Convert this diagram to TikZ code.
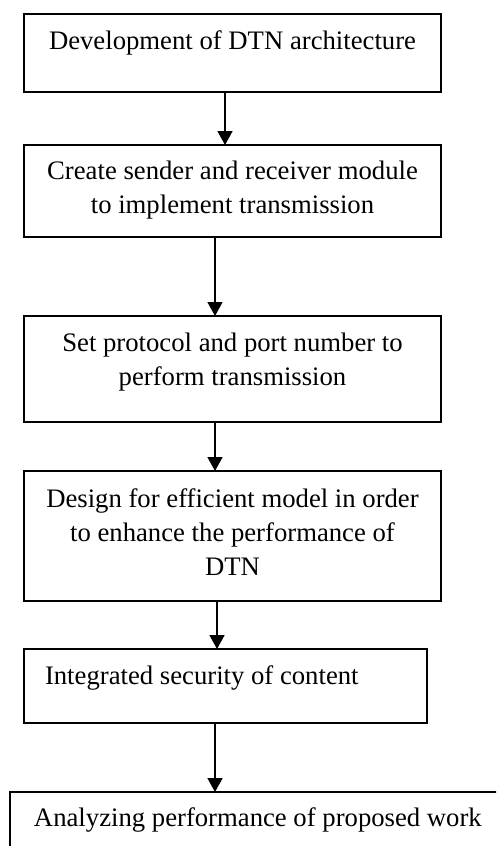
\documentclass[tikz,border=0pt]{standalone}
\usepackage{fontspec}
\setmainfont{Liberation Serif}
\usetikzlibrary{arrows.meta}
\begin{document}
\begin{tikzpicture}[x=1pt,y=-1pt,
  box/.style={draw=black,line width=1.6pt,rectangle,inner sep=0pt,outer sep=0pt},
  txt/.style={inner sep=0pt,outer sep=0pt,font=\fontsize{26.7}{34}\selectfont},
  arr/.style={line width=1.6pt,-{Triangle[length=14pt,width=15pt]}}]
\useasboundingbox (0,0) rectangle (496,846);
\clip (0,0) rectangle (496,846);
\fill[white] (0,0) rectangle (496,846);
% boxes
\node[box,minimum width=417pt,minimum height=78pt] (b1) at (232.5,53) {};
\node[box,minimum width=417pt,minimum height=92pt] (b2) at (232.5,191) {};
\node[box,minimum width=417pt,minimum height=106pt] (b3) at (232.5,369) {};
\node[box,minimum width=417pt,minimum height=130pt] (b4) at (232.5,536) {};
\node[box,minimum width=403pt,minimum height=74pt] (b5) at (225.5,686) {};
\node[box,minimum width=495pt,minimum height=68pt] (b6) at (257.5,826) {};
% texts
\node[txt,anchor=base] (t1) at (232.5,49) {Development of DTN architecture};
\node[txt,align=center] (t2) at (232.5,190.5) {Create sender and receiver module\\to implement transmission};
\node[txt,align=center] (t3) at (232.5,362) {Set protocol and port number to\\perform transmission};
\node[txt,align=center] (t4) at (232.5,532) {Design for efficient model in order\\to enhance the performance of\\DTN};
\node[txt,anchor=base west] (t5) at (45,684) {Integrated security of content};
\node[txt,anchor=base west] (t6) at (34,826) {Analyzing performance of proposed work};
% arrows
\draw[arr] ([xshift=-7.5pt]b1.south) -- ([xshift=-7.5pt]b2.north);
\draw[arr] ([xshift=-17.5pt]b2.south) -- ([xshift=-17.5pt]b3.north);
\draw[arr] ([xshift=-17.5pt]b3.south) -- ([xshift=-17.5pt]b4.north);
\draw[arr] ([xshift=-15.5pt]b4.south) -- ([xshift=-8.5pt]b5.north);
\draw[arr] ([xshift=-10.5pt]b5.south) -- ([xshift=-42.5pt]b6.north);
\end{tikzpicture}
\end{document}
